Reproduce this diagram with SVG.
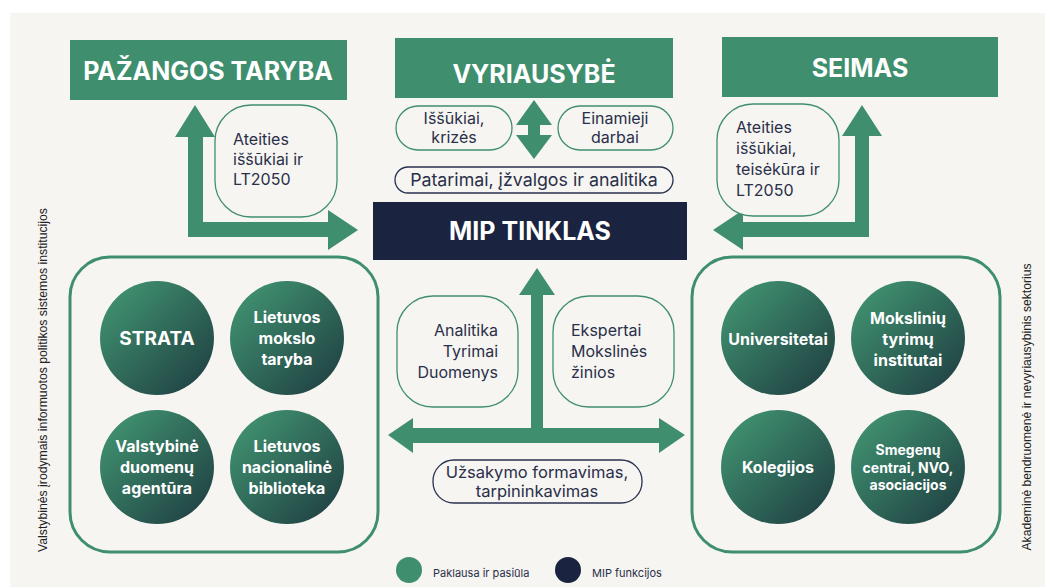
<svg xmlns="http://www.w3.org/2000/svg" width="1045" height="587" viewBox="0 0 1045 587">
<defs>
<linearGradient id="cg" x1="0" y1="0" x2="1" y2="1">
<stop offset="0.15" stop-color="#3e8c6d"/>
<stop offset="1" stop-color="#1d3a3f"/>
</linearGradient>
<style>
.hdr{fill:#3f8f6e}
.hdrt{font-family:Inter,"Liberation Sans",sans-serif;font-weight:700;fill:#ffffff;text-anchor:middle;font-size:25px}
.bub{fill:#f6f5f1;stroke:#3f8f6e;stroke-width:1.3}
.pill{fill:#f6f5f1;stroke:#2a3050;stroke-width:1.3}
.bt{font-family:Inter,"Liberation Sans",sans-serif;font-size:16px;fill:#2a2f4a}
.arrow{fill:#3f8f6e}
.grp{fill:none;stroke:#3f8f6e;stroke-width:3}
.circ{fill:url(#cg)}
.ct{font-family:Inter,"Liberation Sans",sans-serif;font-weight:700;fill:#ffffff;text-anchor:middle;font-size:16px}
.side{font-family:"Liberation Sans",sans-serif;font-size:12px;fill:#222222;text-anchor:middle}
.leg{font-family:Inter,"Liberation Sans",sans-serif;font-size:11px;fill:#2a2f4a}
</style>
</defs>
<rect x="0" y="0" width="1045" height="587" fill="#ffffff"/>
<rect x="10" y="13" width="1035" height="574" fill="#f6f5f1"/>

<g id="connectors">
<path class="arrow" d="M195,105 L215,137 L203,137 L203,222 L328,222 L328,210 L358,230 L328,250 L328,237 L188,237 L188,137 L175,137 Z"/>
<path class="arrow" d="M862,105 L882,136 L869,136 L869,237 L743,237 L743,250 L713,230 L743,210 L743,222 L855,222 L855,136 L842,136 Z"/>
<path class="arrow" d="M534,100 L552,125 L540,125 L540,135 L552,135 L534,159 L516,135 L528,135 L528,125 L516,125 Z"/>
<path class="arrow" d="M537,268 L555,295 L543,295 L543,428 L659,428 L659,418 L685,435 L659,453 L659,443 L413,443 L413,453 L388,435 L413,418 L413,428 L531,428 L531,295 L519,295 Z"/>
</g>

<g id="pazangos-taryba">
<rect class="hdr" x="70" y="40" width="277" height="60"/>
<text class="hdrt" x="208" y="80">PAŽANGOS TARYBA</text>
</g>
<g id="vyriausybe">
<rect class="hdr" x="395" y="38" width="278" height="60"/>
<text class="hdrt" x="534" y="83">VYRIAUSYBĖ</text>
</g>
<g id="seimas">
<rect class="hdr" x="722" y="37" width="276" height="60"/>
<text class="hdrt" x="860" y="77">SEIMAS</text>
</g>
<g id="mip-tinklas">
<rect x="373" y="202" width="314" height="58" fill="#1a2340"/>
<text class="hdrt" x="530" y="240">MIP TINKLAS</text>
</g>

<g id="bubble-left">
<rect class="bub" x="215" y="105" width="122" height="112" rx="36"/>
<text class="bt"><tspan x="233" y="145">Ateities</tspan><tspan x="233" y="165">iššūkiai ir</tspan><tspan x="233" y="185">LT2050</tspan></text>
</g>
<g id="bubble-right">
<rect class="bub" x="717" y="104" width="122" height="112" rx="36"/>
<text class="bt"><tspan x="736" y="133">Ateities</tspan><tspan x="736" y="154">iššūkiai,</tspan><tspan x="736" y="175">teisėkūra ir</tspan><tspan x="736" y="196">LT2050</tspan></text>
</g>
<g id="issukiai">
<rect class="bub" x="396" y="106" width="116" height="44" rx="22"/>
<text class="bt" text-anchor="middle"><tspan x="454" y="124">Iššūkiai,</tspan><tspan x="454" y="143">krizės</tspan></text>
</g>
<g id="einamieji">
<rect class="bub" x="558" y="106" width="115" height="44" rx="22"/>
<text class="bt" text-anchor="middle"><tspan x="615" y="124">Einamieji</tspan><tspan x="615" y="143">darbai</tspan></text>
</g>
<g id="patarimai">
<rect class="pill" x="395" y="167" width="278" height="26" rx="13"/>
<text class="bt" x="534" y="186" text-anchor="middle" style="font-size:17.8px">Patarimai, įžvalgos ir analitika</text>
</g>
<g id="analitika">
<rect class="bub" x="397" y="296" width="121" height="111" rx="36"/>
<text class="bt" text-anchor="end"><tspan x="498" y="336">Analitika</tspan><tspan x="498" y="357">Tyrimai</tspan><tspan x="498" y="378">Duomenys</tspan></text>
</g>
<g id="ekspertai">
<rect class="bub" x="553" y="296" width="121" height="111" rx="36"/>
<text class="bt"><tspan x="571" y="336">Ekspertai</tspan><tspan x="571" y="357">Mokslinės</tspan><tspan x="571" y="378">žinios</tspan></text>
</g>
<g id="uzsakymo">
<rect class="pill" x="433" y="460" width="209" height="43" rx="21"/>
<text class="bt" text-anchor="middle" style="font-size:16.5px"><tspan x="537" y="478">Užsakymo formavimas,</tspan><tspan x="537" y="497">tarpininkavimas</tspan></text>
</g>

<g id="left-group">
<rect class="grp" x="70" y="257" width="308" height="295" rx="40"/>
<text class="side" transform="translate(47,380) rotate(-90)" textLength="344" lengthAdjust="spacingAndGlyphs">Valstybinės įrodymais informuotos politikos sistemos institucijos</text>
</g>
<g id="strata">
<circle class="circ" cx="157" cy="338" r="57"/>
<text class="ct" x="157" y="345" style="font-size:19px">STRATA</text>
</g>
<g id="lmt">
<circle class="circ" cx="287" cy="338" r="57"/>
<text class="ct"><tspan x="287" y="323">Lietuvos</tspan><tspan x="287" y="344">mokslo</tspan><tspan x="287" y="365">taryba</tspan></text>
</g>
<g id="vda">
<circle class="circ" cx="157" cy="467" r="57"/>
<text class="ct"><tspan x="157" y="452">Valstybinė</tspan><tspan x="157" y="473">duomenų</tspan><tspan x="157" y="494">agentūra</tspan></text>
</g>
<g id="lnb">
<circle class="circ" cx="287" cy="467" r="57"/>
<text class="ct"><tspan x="287" y="452">Lietuvos</tspan><tspan x="287" y="473">nacionalinė</tspan><tspan x="287" y="494">biblioteka</tspan></text>
</g>

<g id="right-group">
<rect class="grp" x="692" y="257" width="308" height="295" rx="40"/>
<text class="side" transform="translate(1031,407) rotate(-90)" textLength="287" lengthAdjust="spacingAndGlyphs">Akademinė bendruomenė ir nevyriausybinis sektorius</text>
</g>
<g id="universitetai">
<circle class="circ" cx="778" cy="338" r="57"/>
<text class="ct" x="778" y="345">Universitetai</text>
</g>
<g id="mti">
<circle class="circ" cx="908" cy="338" r="57"/>
<text class="ct"><tspan x="908" y="324">Mokslinių</tspan><tspan x="908" y="345">tyrimų</tspan><tspan x="908" y="366">institutai</tspan></text>
</g>
<g id="kolegijos">
<circle class="circ" cx="778" cy="467" r="57"/>
<text class="ct" x="778" y="473">Kolegijos</text>
</g>
<g id="smegenu">
<circle class="circ" cx="908" cy="467" r="57"/>
<text class="ct" style="font-size:14px"><tspan x="908" y="455">Smegenų</tspan><tspan x="908" y="473">centrai, NVO,</tspan><tspan x="908" y="490">asociacijos</tspan></text>
</g>

<g id="legend">
<circle cx="409" cy="570" r="13" fill="#3f8f6e"/>
<text class="leg" x="433" y="577">Paklausa ir pasiūla</text>
<circle cx="568" cy="570" r="13" fill="#1a2340"/>
<text class="leg" x="592" y="577">MIP funkcijos</text>
</g>
</svg>
